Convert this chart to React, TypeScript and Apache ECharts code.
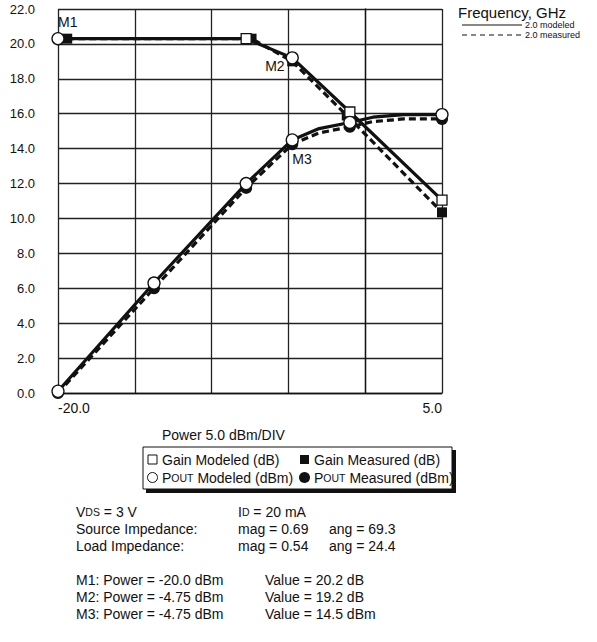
import React, { useEffect, useRef } from "react";
import * as echarts from "echarts";

// ---- data ----
const gainModeledX = [-20, -7.75, -4.75, -1, 5];
const gainModeledY = [20.3, 20.3, 19.2, 16.1, 11.05];
const gainMeasuredX = [-19.4, -7.4, -4.75, -1.2, 5];
const gainMeasuredY = [20.3, 20.3, 19.0, 15.9, 10.35];
// POUT curves: points with markers plus points (no marker)
const poutModeledX = [-20, -13.75, -7.75, -4.75, -3, -1, 0.5, 2.5, 5];
const poutModeledY = [0.1, 6.3, 12.0, 14.5, 15.15, 15.5, 15.8, 15.95, 15.95];
const poutModeledMarked = [1, 1, 1, 1, 0, 1, 0, 0, 1];
const poutMeasuredX = [-20, -13.75, -7.75, -4.75, -3, -1, 0.5, 2.5, 5];
const poutMeasuredY = [0.0, 6.0, 11.75, 14.25, 14.9, 15.25, 15.55, 15.7, 15.7];
const poutMeasuredMarked = [1, 1, 1, 1, 0, 1, 0, 0, 1];

const xTickLabels = ["-20.0", "5.0"];
const markerNames = ["M1", "M2", "M3"];

const infoLines = [
  ["{n|V}{s|DS}{n| = 3 V}", "{n|I}{s|D}{n| = 20 mA}", ""],
  ["Source Impedance:", "mag = 0.69", "ang = 69.3"],
  ["Load Impedance:", "mag = 0.54", "ang = 24.4"],
];
const markerLines = [
  ["M1: Power = -20.0 dBm", "Value = 20.2 dB"],
  ["M2: Power = -4.75 dBm", "Value = 19.2 dB"],
  ["M3: Power = -4.75 dBm", "Value = 14.5 dBm"],
];

const FONT = "'Liberation Sans', Arial, Helvetica, sans-serif";
const INK = "#111";

export default function App() {
  const ref = useRef<HTMLDivElement>(null);
  useEffect(() => {
    if (!ref.current) return;
    const chart = echarts.init(ref.current, null, { renderer: "svg" });

    const zip = (xs: number[], ys: number[]) => xs.map((x, i) => [x, ys[i]]);
    const withMarks = (xs: number[], ys: number[], marks: number[]) =>
      xs.map((x, i) => (marks[i] ? { value: [x, ys[i]] } : { value: [x, ys[i]], symbol: "none" }));

    const gainModeledData: any[] = zip(gainModeledX, gainModeledY);
    gainModeledData[0] = {
      value: gainModeledData[0],
      symbol: "circle",
      symbolSize: 12,
      label: { show: true, formatter: markerNames[0], position: "top", align: "left", distance: 3 },
    };
    gainModeledData[2] = {
      value: gainModeledData[2],
      symbol: "circle",
      symbolSize: 12,
      label: { show: true, formatter: markerNames[1], position: "left", distance: 1, offset: [0, 8] },
    };
    const poutModeledData: any[] = withMarks(poutModeledX, poutModeledY, poutModeledMarked);
    poutModeledData[3] = {
      ...poutModeledData[3],
      label: { show: true, formatter: markerNames[2], position: "bottom", align: "left", distance: 5 },
    };
    const poutMeasuredData: any[] = withMarks(poutMeasuredX, poutMeasuredY, poutMeasuredMarked);

    const labelStyle = { color: INK, fontSize: 14, fontFamily: FONT };

    const richSmall = {
      n: { fontSize: 14, fontFamily: FONT, fill: INK },
      s: { fontSize: 10.5, fontFamily: FONT, fill: INK },
    };

    const textEl = (x: number, y: number, text: string, size = 14, extra: any = {}) => ({
      type: "text",
      x,
      y,
      style: { text, fontSize: size, fontFamily: FONT, fill: INK, verticalAlign: "middle", ...extra },
    });

    const graphics: any[] = [];
    // axis title
    graphics.push(textEl(162, 435, "Power 5.0 dBm/DIV", 14));
    // legend box with shadow
    graphics.push({ type: "rect", shape: { x: 146, y: 450, width: 310, height: 43 }, style: { fill: "#111" } });
    graphics.push({
      type: "rect",
      shape: { x: 143, y: 447, width: 309, height: 42 },
      style: { fill: "#fff", stroke: "#111", lineWidth: 1 },
    });
    // legend rows
    graphics.push({ type: "rect", shape: { x: 148, y: 455, width: 9, height: 9 }, style: { fill: "#fff", stroke: INK, lineWidth: 1 } });
    graphics.push(textEl(162, 459.5, "Gain Modeled (dB)"));
    graphics.push({ type: "rect", shape: { x: 300, y: 455, width: 9, height: 9 }, style: { fill: INK } });
    graphics.push(textEl(314, 459.5, "Gain Measured (dB)"));
    graphics.push({ type: "circle", shape: { cx: 152.5, cy: 477.5, r: 5 }, style: { fill: "#fff", stroke: INK, lineWidth: 1 } });
    graphics.push({
      type: "text",
      x: 162,
      y: 477.5,
      style: { text: "{n|P}{s|OUT}{n| Modeled (dBm)}", rich: richSmall, verticalAlign: "middle", fontFamily: FONT },
    });
    graphics.push({ type: "circle", shape: { cx: 304.5, cy: 477.5, r: 5.5 }, style: { fill: INK } });
    graphics.push({
      type: "text",
      x: 314,
      y: 477.5,
      style: { text: "{n|P}{s|OUT}{n| Measured (dBm)}", rich: richSmall, verticalAlign: "middle", fontFamily: FONT },
    });

    // info block
    const colX = [76, 238, 329];
    infoLines.forEach((row, r) => {
      row.forEach((t, c) => {
        if (!t) return;
        graphics.push({
          type: "text",
          x: colX[c],
          y: 512 + r * 17,
          style: { text: t, rich: richSmall, fontSize: 14, fontFamily: FONT, fill: INK, verticalAlign: "middle" },
        });
      });
    });
    const mColX = [76, 265];
    markerLines.forEach((row, r) => {
      row.forEach((t, c) => {
        graphics.push(textEl(mColX[c], 580 + r * 17, t, 14));
      });
    });

    // frequency legend
    graphics.push(textEl(458, 12, "Frequency, GHz", 15));
    graphics.push({ type: "line", shape: { x1: 462, y1: 25, x2: 522, y2: 25 }, style: { stroke: INK, lineWidth: 1 } });
    graphics.push(textEl(525, 25, "2.0 modeled", 9));
    graphics.push({
      type: "line",
      shape: { x1: 462, y1: 35, x2: 522, y2: 35 },
      style: { stroke: INK, lineWidth: 1, lineDash: [5, 4] },
    });
    graphics.push(textEl(525, 35, "2.0 measured", 9));

    chart.setOption({
      animation: false,
      backgroundColor: "#fff",
      grid: { left: 58, top: 9, width: 384, height: 384, containLabel: false },
      xAxis: {
        type: "value",
        min: -20,
        max: 5,
        interval: 5,
        axisLine: { show: true, lineStyle: { color: INK, width: 1.3 } },
        axisTick: { show: false },
        splitLine: { show: true, lineStyle: { color: "#222", width: 1.3 } },
        axisLabel: {
          color: INK,
          fontSize: 14,
          fontFamily: FONT,
          margin: 8,
          alignMinLabel: "left",
          alignMaxLabel: "right",
          formatter: (v: number) => (v === -20 ? xTickLabels[0] : v === 5 ? xTickLabels[1] : ""),
        },
      },
      yAxis: {
        type: "value",
        min: 0,
        max: 22,
        interval: 2,
        axisLine: { show: true, lineStyle: { color: INK, width: 1.3 } },
        axisTick: { show: false },
        splitLine: { show: true, lineStyle: { color: "#222", width: 1.3 } },
        axisLabel: {
          color: INK,
          fontSize: 13,
          fontFamily: FONT,
          margin: 23,
          formatter: (v: number) => v.toFixed(1),
        },
      },
      graphic: graphics,
      series: [
        {
          name: "Gain Measured (dB)",
          type: "line",
          data: zip(gainMeasuredX, gainMeasuredY),
          symbol: "rect",
          symbolSize: 10,
          itemStyle: { color: INK, borderColor: INK, borderWidth: 0 },
          lineStyle: { color: INK, width: 3.2, type: [7, 4] },
          z: 2,
        },
        {
          name: "Pout Measured (dBm)",
          type: "line",
          data: poutMeasuredData,
          symbol: "circle",
          symbolSize: 12,
          showAllSymbol: true,
          itemStyle: { color: INK, borderColor: INK, borderWidth: 0 },
          lineStyle: { color: INK, width: 3.2, type: [7, 4] },
          z: 2,
        },
        {
          name: "Gain Modeled (dB)",
          type: "line",
          data: gainModeledData,
          symbol: "rect",
          symbolSize: 10,
          showAllSymbol: true,
          itemStyle: { color: "#fff", borderColor: INK, borderWidth: 1.3 },
          lineStyle: { color: INK, width: 3.2 },
          label: labelStyle,
          z: 3,
        },
        {
          name: "Pout Modeled (dBm)",
          type: "line",
          data: poutModeledData,
          symbol: "circle",
          symbolSize: 12,
          showAllSymbol: true,
          itemStyle: { color: "#fff", borderColor: INK, borderWidth: 1.3 },
          lineStyle: { color: INK, width: 3.2 },
          label: labelStyle,
          z: 3,
        },
      ],
    });
    return () => chart.dispose();
  }, []);
  return (
    <div
      ref={ref}
      style={{ position: "fixed", left: 0, top: 0, width: 597, height: 642, background: "#fff" }}
    />
  );
}
